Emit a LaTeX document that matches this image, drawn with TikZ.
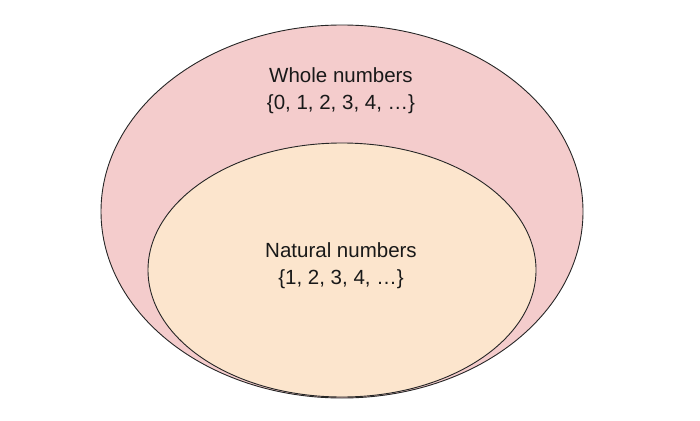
\documentclass[tikz,border=0pt]{standalone}
\usepackage{fontspec}
\setmainfont{Liberation Sans}
\usetikzlibrary{shapes.geometric}
\definecolor{wholefill}{HTML}{F4CCCC}
\definecolor{naturalfill}{HTML}{FCE5CD}
\tikzset{
  setshape/.style={ellipse, draw=black!85, line width=0.9pt, inner sep=0pt},
  setlabel/.style={align=center, font=\fontsize{20.5}{27}\selectfont, text=black!90}
}

\begin{document}
\begin{tikzpicture}[x=1pt,y=-1pt]
        \useasboundingbox (0,0) rectangle (700,420);
        \node [setshape, fill=wholefill, minimum width=482pt, minimum height=373pt] (whole) at (342,211.5) {};
        \node [setshape, fill=naturalfill, minimum width=388pt, minimum height=254pt] (natural) at (342,270) {};
        \node [setlabel] (wholelabel) at (341,91) {Whole numbers\\\{0, 1, 2, 3, 4, \dots\}};
        \node [setlabel] (naturallabel) at (341,266) {Natural numbers\\\{1, 2, 3, 4, \dots\}};
    \end{tikzpicture}
\end{document}
